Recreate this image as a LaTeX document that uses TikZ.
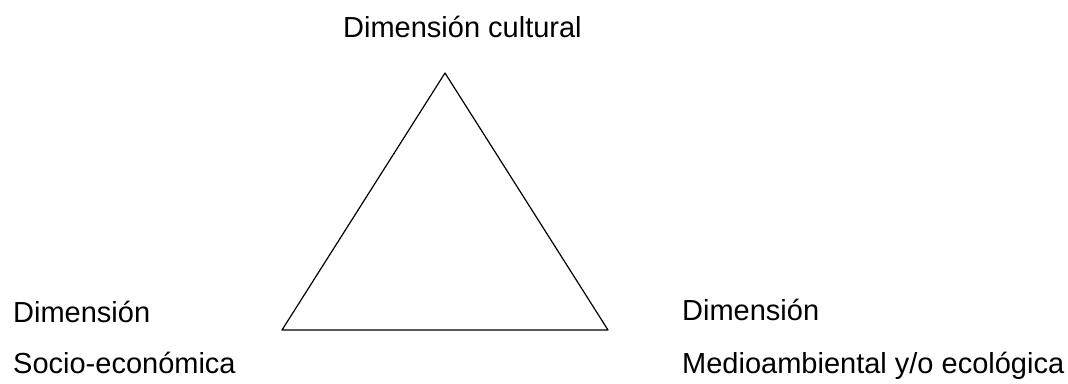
\documentclass[tikz,border=0pt]{standalone}
\usepackage{fontspec}
\setmainfont{Liberation Sans}
\usetikzlibrary{positioning}

\begin{document}
\begin{tikzpicture}[x=1pt,y=-1pt,line cap=round,line join=round]
\useasboundingbox[fill=white] (0,0) rectangle (1068,383);
\tikzset{dimlabel/.style={anchor=base west,inner sep=0pt,font=\fontsize{29}{34}\selectfont},edge/.style={draw=black,line width=1.2pt}}
\coordinate (apex) at (445,73);
\coordinate (left) at (282,330);
\coordinate (right) at (608,330);
\draw[edge] (apex) -- (left) -- (right) -- cycle;
\node[dimlabel] (cultural) at (343,37) {Dimensión cultural};
\node[dimlabel] (socio) at (13,322) {Dimensión};
\node[dimlabel] (sociob) at (13,373) {Socio-económica};
\node[dimlabel] (medio) at (682,320) {Dimensión};
\node[dimlabel] (mediob) at (682,373) {Medioambiental y/o ecológica};
\end{tikzpicture}
\end{document}
